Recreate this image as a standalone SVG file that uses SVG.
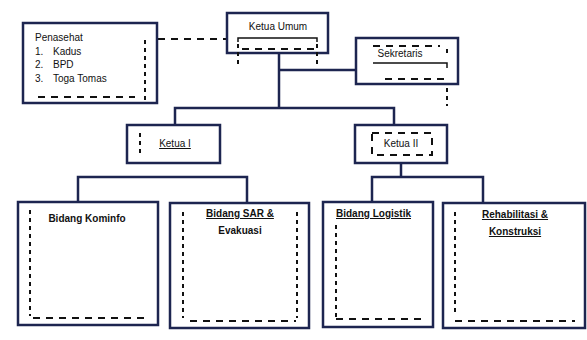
<svg xmlns="http://www.w3.org/2000/svg" width="587" height="340" viewBox="0 0 587 340">
<style>
.box{fill:#fff;stroke:#1d2550;stroke-width:2.5}
.con{fill:none;stroke:#1d2550;stroke-width:2.5}
.dash{fill:none;stroke:#111;stroke-width:2;stroke-dasharray:7 6}
.vd{fill:none;stroke:#111;stroke-width:2;stroke-dasharray:4 4}
.sol{fill:none;stroke:#111;stroke-width:1.5}
text{font-family:"Liberation Sans",Arial,sans-serif;font-size:10px;fill:#111}
.b{font-weight:bold}
</style>
<rect width="587" height="340" fill="#fff"/>
<g id="connectors">
<line class="dash" x1="158" y1="39" x2="227" y2="39"/>
<polyline class="con" points="279,53 279,108"/>
<polyline class="con" points="279,70 356,70"/>
<polyline class="con" points="175,125 175,108 394,108 394,125"/>
<polyline class="con" points="78,202 78,177 247,177 247,203"/>
<polyline class="con" points="401,163 401,177"/>
<polyline class="con" points="372,202 372,177 483,177 483,203"/>
<line class="vd" x1="447" y1="80" x2="447" y2="106"/>
</g>
<g id="penasehat">
<rect class="box" x="23" y="23" width="134" height="80"/>
<text x="35" y="41">Penasehat</text>
<text x="35" y="55">1.</text><text x="53" y="55">Kadus</text>
<text x="35" y="68">2.</text><text x="53" y="68">BPD</text>
<text x="35" y="82">3.</text><text x="53" y="82">Toga Tomas</text>
<line class="vd" x1="145" y1="40" x2="145" y2="103"/>
<line class="dash" x1="38" y1="97" x2="135" y2="97"/>
</g>
<g id="ketua-umum">
<rect class="box" x="227" y="13" width="101" height="40"/>
<text x="278" y="30" text-anchor="middle">Ketua Umum</text>
<polyline class="sol" points="238,42 238,38 317,38 317,42"/>
<line class="dash" x1="242" y1="49" x2="317" y2="49"/>
<line class="vd" x1="238" y1="44" x2="238" y2="68"/>
<line class="vd" x1="317" y1="44" x2="317" y2="68"/>
</g>
<g id="sekretaris">
<rect class="box" x="356" y="38" width="102" height="46"/>
<line class="dash" x1="373" y1="46" x2="440" y2="46"/>
<text x="400" y="57" text-anchor="middle">Sekretaris</text>
<line class="vd" x1="447" y1="49" x2="447" y2="57"/>
<polyline class="sol" points="373,63 447,63 447,68"/>
<line class="dash" x1="385" y1="79" x2="447" y2="79"/>
</g>
<g id="ketua-1">
<rect class="box" x="127" y="125" width="93" height="38"/>
<line class="vd" x1="140" y1="133" x2="140" y2="153"/>
<text x="175" y="147" text-anchor="middle" text-decoration="underline">Ketua I</text>
</g>
<g id="ketua-2">
<rect class="box" x="355" y="125" width="92" height="38"/>
<rect class="dash" x="372" y="133" width="60" height="22" stroke-dasharray="8 6"/>
<text x="401" y="147" text-anchor="middle">Ketua II</text>
</g>
<g id="kominfo">
<rect class="box" x="18" y="202" width="140" height="123"/>
<text class="b" x="87" y="222" text-anchor="middle">Bidang Kominfo</text>
<line class="vd" x1="30" y1="210" x2="30" y2="316"/>
<line class="dash" x1="33" y1="318" x2="148" y2="318"/>
</g>
<g id="sar">
<rect class="box" x="170" y="203" width="139" height="125"/>
<text class="b" x="240" y="217" text-anchor="middle" text-decoration="underline">Bidang SAR &amp;</text>
<text class="b" x="240" y="234" text-anchor="middle">Evakuasi</text>
<line class="vd" x1="183" y1="212" x2="183" y2="318"/>
<line class="vd" x1="297" y1="212" x2="297" y2="318"/>
<line class="dash" x1="190" y1="321" x2="296" y2="321"/>
</g>
<g id="logistik">
<rect class="box" x="323" y="202" width="110" height="125"/>
<text class="b" x="336" y="217" text-decoration="underline">Bidang Logistik</text>
<line class="vd" x1="336" y1="225" x2="336" y2="318"/>
<line class="dash" x1="336" y1="319" x2="422" y2="319"/>
</g>
<g id="rehab">
<rect class="box" x="443" y="203" width="142" height="125"/>
<text class="b" x="515" y="218" text-anchor="middle" text-decoration="underline">Rehabilitasi &amp;</text>
<text class="b" x="515" y="235" text-anchor="middle" text-decoration="underline">Konstruksi</text>
<line class="vd" x1="455" y1="212" x2="455" y2="316"/>
<line class="dash" x1="455" y1="321" x2="575" y2="321"/>
</g>
</svg>
